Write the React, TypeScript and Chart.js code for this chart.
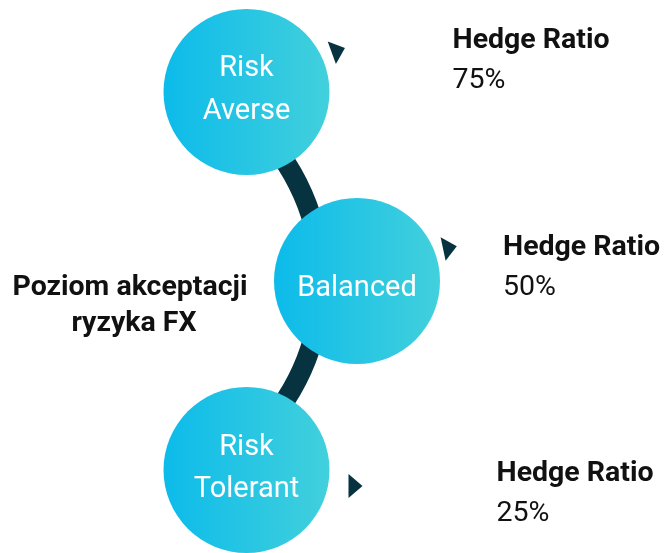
import React, { useEffect, useRef } from "react";
import { Chart, registerables } from "chart.js";

Chart.register(...registerables);

// ---- data ----
const categories = ["Risk Averse", "Balanced", "Risk Tolerant"];
const categoryLines = [["Risk", "Averse"], ["Balanced"], ["Risk", "Tolerant"]];
const hedgeRatios = [75, 50, 25];
const swingPosition = [0, 1, 0];
const metricLabel = "Hedge Ratio";
const valueLabels = ["75%", "50%", "25%"];
const axisTitleLines = ["Poziom akceptacji", "ryzyka FX"];

// ---- layout / style (pixels relative to each circle centre) ----
const RADIUS = 83;
const circleTextBaselines = [[-16, 27], [15], [-15, 27]];
const arrowLayout = [
  { dx: 90, dy: -41, angle: -20 },
  { dx: 91, dy: -33, angle: -12 },
  { dx: 107, dy: 16, angle: 0 },
];
const labelLayout = [
  { dx: 206, dy1: -44, dy2: -4 },
  { dx: 146, dy1: -26, dy2: 14 },
  { dx: 250, dy1: 11, dy2: 51 },
];
const DARK = "#07323f";

const infographicPlugin = {
  id: "infographic",
  beforeDatasetsDraw(chart: any) {
    const { ctx, scales } = chart;
    const cx = scales.x.getPixelForValue(swingPosition[1]);
    const cy = scales.y.getPixelForValue(hedgeRatios[1]);
    ctx.save();
    ctx.strokeStyle = DARK;
    ctx.lineWidth = 20;
    ctx.beginPath();
    ctx.arc(cx - 252, cy, 216, -1.2, 1.2);
    ctx.stroke();
    ctx.restore();
  },
  afterDatasetsDraw(chart: any) {
    const { ctx, scales } = chart;
    ctx.save();
    categories.forEach((_, i) => {
      const x = scales.x.getPixelForValue(swingPosition[i]);
      const y = scales.y.getPixelForValue(hedgeRatios[i]);
      // circle text
      ctx.fillStyle = "#ffffff";
      ctx.font = "400 29px Roboto";
      ctx.textAlign = "center";
      ctx.textBaseline = "alphabetic";
      categoryLines[i].forEach((line, j) => {
        ctx.fillText(line, x, y + circleTextBaselines[i][j]);
      });
      // arrow
      const a = arrowLayout[i];
      ctx.save();
      ctx.translate(x + a.dx, y + a.dy);
      ctx.rotate((a.angle * Math.PI) / 180);
      ctx.fillStyle = DARK;
      ctx.beginPath();
      ctx.moveTo(9, 0);
      ctx.lineTo(-5, -12);
      ctx.lineTo(-5, 12);
      ctx.closePath();
      ctx.fill();
      ctx.restore();
      // right labels
      const l = labelLayout[i];
      ctx.textAlign = "left";
      ctx.fillStyle = "#111111";
      ctx.font = "700 28.5px Roboto";
      ctx.fillText(metricLabel, x + l.dx, y + l.dy1);
      ctx.font = "400 28.5px Roboto";
      ctx.fillText(valueLabels[i], x + l.dx, y + l.dy2);
    });
    // left title
    ctx.fillStyle = "#111111";
    ctx.font = "700 28.5px Roboto";
    ctx.textAlign = "center";
    ctx.fillText(axisTitleLines[0], 130, 295);
    ctx.fillText(axisTitleLines[1], 134, 331);
    ctx.restore();
  },
};

export default function App() {
  const ref = useRef<HTMLCanvasElement | null>(null);
  useEffect(() => {
    document.body.style.margin = "0";
    const canvas = ref.current!;
    const chart = new Chart(canvas, {
      type: "scatter",
      data: {
        labels: categories,
        datasets: [
          {
            data: categories.map((_, i) => ({ x: swingPosition[i], y: hedgeRatios[i] })),
            pointRadius: RADIUS,
            pointHoverRadius: RADIUS,
            borderWidth: 0,
            pointBorderWidth: 0,
            clip: false,
            backgroundColor: (c: any) => {
              const ch = c.chart;
              const fallback = "#2ac6e2";
              if (c.type !== "data" || !ch.scales || !ch.scales.x) return fallback;
              const x = ch.scales.x.getPixelForValue(swingPosition[c.dataIndex]);
              if (!Number.isFinite(x)) return fallback;
              const g = ch.ctx.createLinearGradient(x - RADIUS, 0, x + RADIUS, 0);
              g.addColorStop(0, "#0cbbea");
              g.addColorStop(1, "#42d0dc");
              return g;
            },
          } as any,
        ],
      },
      options: {
        responsive: false,
        animation: false,
        devicePixelRatio: 1,
        events: [],
        layout: { padding: 0, autoPadding: false },
        plugins: { legend: { display: false }, tooltip: { enabled: false } },
        scales: {
          x: { type: "linear", display: false, min: -2.2308, max: 3.8235 },
          y: { type: "linear", display: false, min: 14.02, max: 87.17 },
        },
      },
      plugins: [infographicPlugin],
    });
    return () => chart.destroy();
  }, []);
  return (
    <div style={{ position: "absolute", left: 0, top: 0, width: 669, height: 553 }}>
      <canvas ref={ref} width={669} height={553} />
    </div>
  );
}
